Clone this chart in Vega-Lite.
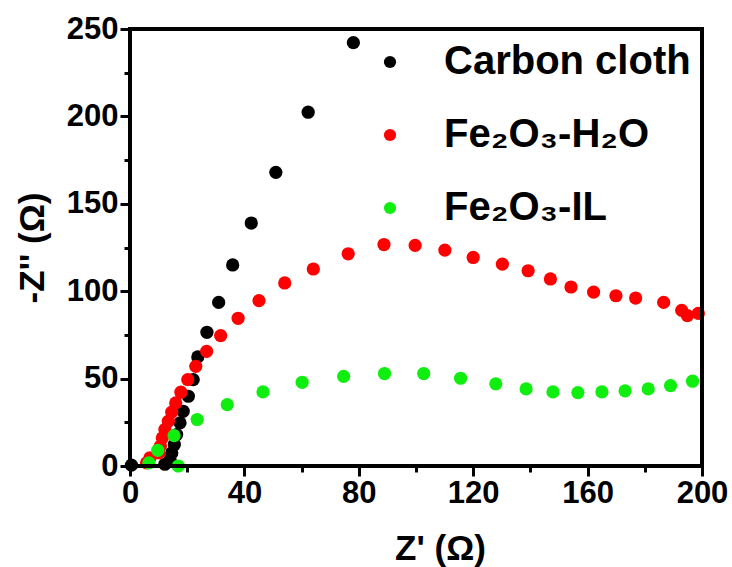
{
  "$schema": "https://vega.github.io/schema/vega-lite/v6.json",
  "width": 572,
  "height": 437,
  "autosize": {"type": "none"},
  "padding": {"left": 130, "top": 29, "right": 30, "bottom": 101},
  "background": "white",
  "config": {
    "font": "Liberation Sans",
    "view": {"stroke": "#000000", "strokeWidth": 3},
    "axis": {
      "grid": false,
      "labelFlush": false,
      "labelOverlap": false,
      "labelFontWeight": "bold",
      "labelFontSize": 31,
      "labelColor": "black",
      "titleFontWeight": "bold",
      "titleFontSize": 35,
      "titleColor": "black"
    }
  },
  "data": {
    "values": [
      {"sample": "Carbon cloth", "zr": 0.5, "zi": 0.5},
      {"sample": "Carbon cloth", "zr": 12.2, "zi": 1},
      {"sample": "Carbon cloth", "zr": 14, "zi": 3.7},
      {"sample": "Carbon cloth", "zr": 14.6, "zi": 7.5},
      {"sample": "Carbon cloth", "zr": 15.5, "zi": 12.3},
      {"sample": "Carbon cloth", "zr": 16.3, "zi": 18},
      {"sample": "Carbon cloth", "zr": 17.5, "zi": 24.7},
      {"sample": "Carbon cloth", "zr": 18.6, "zi": 31.3},
      {"sample": "Carbon cloth", "zr": 20.4, "zi": 39.9},
      {"sample": "Carbon cloth", "zr": 22.1, "zi": 49.4},
      {"sample": "Carbon cloth", "zr": 23.7, "zi": 62.4},
      {"sample": "Carbon cloth", "zr": 26.9, "zi": 76.5},
      {"sample": "Carbon cloth", "zr": 31, "zi": 93.6},
      {"sample": "Carbon cloth", "zr": 35.9, "zi": 115},
      {"sample": "Carbon cloth", "zr": 42.4, "zi": 139},
      {"sample": "Carbon cloth", "zr": 51, "zi": 168},
      {"sample": "Carbon cloth", "zr": 62.3, "zi": 202.4},
      {"sample": "Carbon cloth", "zr": 78.1, "zi": 242.2},
      {"sample": "Fe₂O₃-H₂O", "zr": 5.8, "zi": 1.8},
      {"sample": "Fe₂O₃-H₂O", "zr": 7, "zi": 4.7},
      {"sample": "Fe₂O₃-H₂O", "zr": 10.1, "zi": 7.5},
      {"sample": "Fe₂O₃-H₂O", "zr": 10.6, "zi": 11.3},
      {"sample": "Fe₂O₃-H₂O", "zr": 11.3, "zi": 16.1},
      {"sample": "Fe₂O₃-H₂O", "zr": 12.2, "zi": 20.9},
      {"sample": "Fe₂O₃-H₂O", "zr": 13.4, "zi": 25.6},
      {"sample": "Fe₂O₃-H₂O", "zr": 14.6, "zi": 30.8},
      {"sample": "Fe₂O₃-H₂O", "zr": 16, "zi": 36.1},
      {"sample": "Fe₂O₃-H₂O", "zr": 17.8, "zi": 42.2},
      {"sample": "Fe₂O₃-H₂O", "zr": 20.2, "zi": 49.4},
      {"sample": "Fe₂O₃-H₂O", "zr": 23, "zi": 57},
      {"sample": "Fe₂O₃-H₂O", "zr": 26.8, "zi": 65.6},
      {"sample": "Fe₂O₃-H₂O", "zr": 31.7, "zi": 74.6},
      {"sample": "Fe₂O₃-H₂O", "zr": 37.8, "zi": 84.5},
      {"sample": "Fe₂O₃-H₂O", "zr": 45.1, "zi": 94.6},
      {"sample": "Fe₂O₃-H₂O", "zr": 54.1, "zi": 104.7},
      {"sample": "Fe₂O₃-H₂O", "zr": 64.1, "zi": 112.7},
      {"sample": "Fe₂O₃-H₂O", "zr": 76.3, "zi": 121.4},
      {"sample": "Fe₂O₃-H₂O", "zr": 88.8, "zi": 126.7},
      {"sample": "Fe₂O₃-H₂O", "zr": 99.7, "zi": 126.2},
      {"sample": "Fe₂O₃-H₂O", "zr": 110.1, "zi": 123.5},
      {"sample": "Fe₂O₃-H₂O", "zr": 120, "zi": 119.3},
      {"sample": "Fe₂O₃-H₂O", "zr": 130.2, "zi": 115.5},
      {"sample": "Fe₂O₃-H₂O", "zr": 139.2, "zi": 111.7},
      {"sample": "Fe₂O₃-H₂O", "zr": 147, "zi": 107},
      {"sample": "Fe₂O₃-H₂O", "zr": 154.2, "zi": 102.4},
      {"sample": "Fe₂O₃-H₂O", "zr": 162.1, "zi": 99.5},
      {"sample": "Fe₂O₃-H₂O", "zr": 169.9, "zi": 97.4},
      {"sample": "Fe₂O₃-H₂O", "zr": 176.8, "zi": 96.1},
      {"sample": "Fe₂O₃-H₂O", "zr": 186.6, "zi": 93.6},
      {"sample": "Fe₂O₃-H₂O", "zr": 192.9, "zi": 89},
      {"sample": "Fe₂O₃-H₂O", "zr": 194.9, "zi": 86},
      {"sample": "Fe₂O₃-H₂O", "zr": 198.7, "zi": 87.3},
      {"sample": "Fe₂O₃-IL", "zr": 6.6, "zi": 1.8},
      {"sample": "Fe₂O₃-IL", "zr": 9.7, "zi": 9},
      {"sample": "Fe₂O₃-IL", "zr": 15.4, "zi": 17.4},
      {"sample": "Fe₂O₃-IL", "zr": 16.9, "zi": 0},
      {"sample": "Fe₂O₃-IL", "zr": 23.5, "zi": 26.6},
      {"sample": "Fe₂O₃-IL", "zr": 34, "zi": 35.1},
      {"sample": "Fe₂O₃-IL", "zr": 46.5, "zi": 42.4},
      {"sample": "Fe₂O₃-IL", "zr": 60.2, "zi": 47.9},
      {"sample": "Fe₂O₃-IL", "zr": 74.7, "zi": 51.3},
      {"sample": "Fe₂O₃-IL", "zr": 89, "zi": 52.9},
      {"sample": "Fe₂O₃-IL", "zr": 102.7, "zi": 52.9},
      {"sample": "Fe₂O₃-IL", "zr": 115.6, "zi": 50.2},
      {"sample": "Fe₂O₃-IL", "zr": 127.9, "zi": 47},
      {"sample": "Fe₂O₃-IL", "zr": 138.5, "zi": 44.1},
      {"sample": "Fe₂O₃-IL", "zr": 147.9, "zi": 42.4},
      {"sample": "Fe₂O₃-IL", "zr": 156.6, "zi": 42},
      {"sample": "Fe₂O₃-IL", "zr": 165, "zi": 42.4},
      {"sample": "Fe₂O₃-IL", "zr": 173.1, "zi": 43},
      {"sample": "Fe₂O₃-IL", "zr": 181.2, "zi": 44.1},
      {"sample": "Fe₂O₃-IL", "zr": 189, "zi": 46},
      {"sample": "Fe₂O₃-IL", "zr": 196.7, "zi": 48.5}
    ]
  },
  "layer": [
    {
      "mark": {"type": "point", "filled": true, "opacity": 1, "size": 175},
      "encoding": {
        "x": {
          "field": "zr", "type": "quantitative",
          "scale": {"domain": [0, 200], "nice": false, "zero": false},
          "axis": {
            "values": [0, 20, 40, 60, 80, 100, 120, 140, 160, 180, 200],
            "labelExpr": "datum.value % 40 === 0 ? datum.label : ''",
            "domainColor": "#000000", "domainWidth": 3,
            "tickColor": "#000000", "tickWidth": 3,
            "tickSize": {"condition": {"test": "datum.value % 40 === 0", "value": 10}, "value": 6},
            "title": "Z' (Ω)",
            "titleX": 310, "titleY": 93, "titleBaseline": "alphabetic", "titleAlign": "center"
          }
        },
        "y": {
          "field": "zi", "type": "quantitative",
          "scale": {"domain": [0, 250], "nice": false, "zero": false},
          "axis": {
            "values": [0, 25, 50, 75, 100, 125, 150, 175, 200, 225, 250],
            "labelExpr": "datum.value % 50 === 0 ? datum.label : ''",
            "domainColor": "#000000", "domainWidth": 3,
            "tickColor": "#000000", "tickWidth": 3,
            "tickSize": {"condition": {"test": "datum.value % 50 === 0", "value": 10}, "value": 6},
            "title": "-Z'' (Ω)",
            "titlePadding": 16
          }
        },
        "color": {
          "field": "sample", "type": "nominal",
          "scale": {"domain": ["Carbon cloth", "Fe₂O₃-H₂O", "Fe₂O₃-IL"], "range": ["#000000", "#ff0000", "#10ee10"]},
          "legend": {
            "title": null,
            "orient": "none",
            "legendX": 240,
            "legendY": 13,
            "padding": 0,
            "symbolType": "circle",
            "symbolSize": 150,
            "symbolStrokeWidth": 0,
            "labelFontWeight": "bold",
            "labelFontSize": 40,
            "labelColor": "black",
            "labelOffset": 34,
            "rowPadding": 33,
            "labelLimit": 400
          }
        }
      }
    },
    {
      "mark": {"type": "rect", "filled": false, "stroke": "#000000", "strokeWidth": 3, "fillOpacity": 0},
      "encoding": {
        "x": {"datum": 0, "type": "quantitative"},
        "x2": {"datum": 200},
        "y": {"datum": 0, "type": "quantitative"},
        "y2": {"datum": 250}
      }
    }
  ]
}
